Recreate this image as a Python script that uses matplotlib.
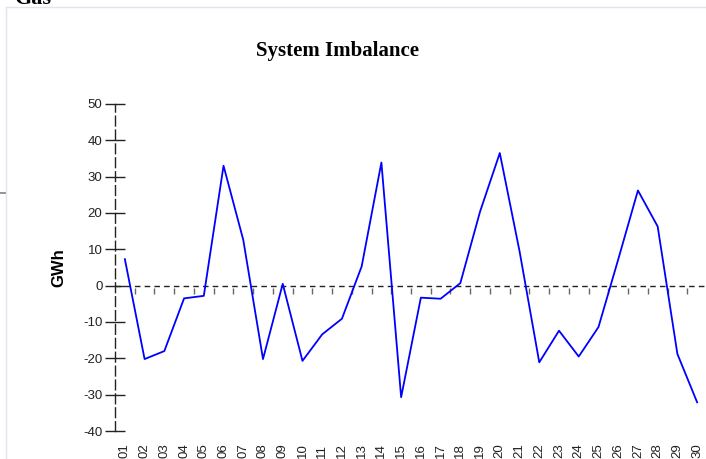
import matplotlib.pyplot as plt
from matplotlib.lines import Line2D


OUTPUT_IMAGE = "out.png"

days = ["01", "02", "03", "04", "05", "06", "07", "08", "09", "10",
        "11", "12", "13", "14", "15", "16", "17", "18", "19", "20",
        "21", "22", "23", "24", "25", "26", "27", "28", "29", "30"]
imbalance = [7.3, -20.2, -18.0, -3.5, -2.8, 33.0, 12.6, -20.2, 0.5, -20.7,
             -13.4, -9.1, 5.3, 33.9, -30.7, -3.3, -3.6, 0.7, 20.4, 36.5,
             9.5, -21.1, -12.4, -19.5, -11.4, 7.2, 26.2, 16.3, -18.8, -32.1]
y_ticks = [-40, -30, -20, -10, 0, 10, 20, 30, 40, 50]


def main() -> None:
    fig = plt.figure(figsize=(7.06, 4.59), dpi=100)

    # page frame around the chart (light lines) and the cut-off heading
    fig.add_artist(Line2D([6 / 706, 1], [1 - 7 / 459] * 2, color="#dfe5ef", lw=1))
    fig.add_artist(Line2D([6 / 706] * 2, [0, 1 - 7 / 459], color="#dfe5ef", lw=1))
    fig.add_artist(Line2D([0, 5 / 706], [1 - 193 / 459] * 2, color="#808080", lw=1.2))
    fig.text(15 / 706, 1 - 4 / 459, "Gas", family="Liberation Serif",
             weight="bold", fontsize=16, va="baseline", ha="left")

    ax = fig.add_axes([115 / 706, 28 / 459, 592 / 706, 327 / 459])
    x = list(range(len(days)))
    ax.plot(x, imbalance, color="#0000ff", lw=1.3, zorder=3)

    ax.set_xlim(-0.5, len(days) - 0.5)
    ax.set_ylim(-40, 50)

    for side in ["top", "right", "bottom"]:
        ax.spines[side].set_visible(False)
    ax.spines["left"].set_linestyle((0, (7, 3)))
    ax.spines["left"].set_color("#222222")
    ax.spines["left"].set_linewidth(1)

    ax.set_yticks(y_ticks)
    ax.set_yticklabels([str(v) for v in y_ticks])
    ax.tick_params(axis="y", direction="inout", length=14, width=1,
                   color="#222222", labelsize=9.5, labelcolor="#222222", pad=2)

    ax.set_xticks(x)
    ax.set_xticklabels(days, rotation=90, family="Liberation Sans")
    ax.tick_params(axis="x", length=0, labelsize=9.5, pad=9, labelcolor="#222222")
    for lbl in ax.get_yticklabels():
        lbl.set_family("Liberation Sans")

    # zero line with small category separators hanging just below it
    ax.axhline(0, color="#222222", lw=1, linestyle=(0, (4, 3)), zorder=2)
    zero_frac = (0 - y_ticks[0]) / (y_ticks[-1] - y_ticks[0])
    zero_ax = ax.secondary_xaxis(zero_frac - 2 / 327)
    zero_ax.spines["bottom"].set_visible(False)
    zero_ax.set_xticks([i + 0.5 for i in x[:-1]])
    zero_ax.tick_params(axis="x", direction="out", length=4, width=1,
                        color="#666666", labelbottom=False)

    ax.set_ylabel("GWh", family="Liberation Sans", weight="bold", fontsize=12,
                  labelpad=12)

    fig.text(337 / 706, 1 - 51 / 459, "System Imbalance", family="Liberation Serif",
             weight="bold", fontsize=15, ha="center", va="center")

    fig.savefig(OUTPUT_IMAGE, dpi=100)
    plt.close(fig)


if __name__ == "__main__":
    main()
